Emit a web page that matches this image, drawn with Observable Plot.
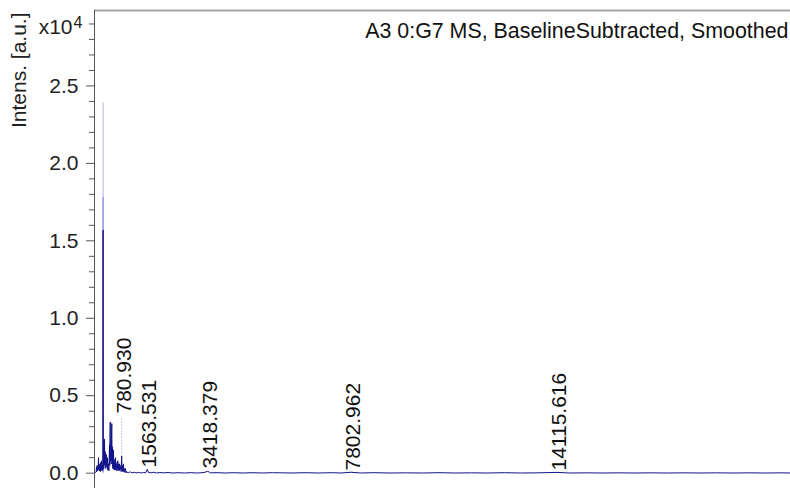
<!DOCTYPE html>
<html>
<head>
<meta charset="utf-8">
<script src="https://cdn.jsdelivr.net/npm/d3@7"></script>
<script src="https://cdn.jsdelivr.net/npm/@observablehq/plot@0.6"></script>
<style>
  html, body { margin: 0; padding: 0; background: #fff; }
</style>
</head>
<body>
<div id="chart"></div>
<script>
// ---- data (intensity in units of 10^4 a.u.) ----
const titleText = "A3 0:G7 MS, BaselineSubtracted, Smoothed";
const yLabel = "Intens. [a.u.]";
const yExponentBase = "x10";
const yExponent = "4";

const spectrumMz = [
  -50, 0, 10, 18, 28, 38, 48, 60, 70, 80, 92, 102, 115, 128, 140, 152, 165, 178, 190, 200,
  207, 211, 215, 222, 232, 240, 246, 254, 262, 272, 285, 295, 305, 315, 325, 335, 345, 356,
  366, 377, 388, 398, 407, 416, 424, 430, 437, 445, 453, 461, 470, 478, 486, 493, 500, 508,
  516, 523, 530, 538, 546, 553, 560, 568, 576, 584, 591, 600, 610, 622, 632, 642, 652, 662,
  672, 683, 693, 703, 714, 724, 734, 744, 755, 765, 772, 781, 790, 798, 805, 814, 822, 830,
  836, 845, 855, 867, 877, 887, 897, 910, 925, 940, 960, 985, 1010,
  1050, 1100, 1160, 1220, 1300, 1380, 1450, 1520, 1563, 1600, 1680, 1760, 1850, 1950, 2050,
  2200, 2350, 2500, 2700, 2900, 3100, 3300, 3418, 3500, 3700, 3950, 4200, 4500, 4800, 5100,
  5400, 5700, 6000, 6400, 6800, 7200, 7500, 7803, 8100, 8500, 9000, 9500, 10000, 10500,
  11000, 11500, 12000, 12500, 13000, 13500, 14116, 14500, 15000, 15500, 16000, 16500, 17000,
  17500, 18000, 18500, 19000, 19500, 20000, 20500, 21000, 21265
];
const spectrumIntensity = [
  0, 0.01, 0.04, 0.01, 0.05, 0.015, 0.03, 0.02, 0.10, 0.02, 0.06, 0.015, 0.05, 0.01, 0.07, 0.02, 0.08, 0.015, 0.05, 0.02,
  0.03, 1.57, 0.04, 0.12, 0.03, 0.21, 0.06, 0.22, 0.05, 0.14, 0.08, 0.03, 0.11, 0.12, 0.04, 0.09, 0.10, 0.02,
  0.06, 0.06, 0.015, 0.09, 0.18, 0.05, 0.26, 0.33, 0.08, 0.20, 0.20, 0.06, 0.27, 0.32, 0.09, 0.17, 0.12, 0.03,
  0.11, 0.04, 0.15, 0.03, 0.09, 0.02, 0.07, 0.03, 0.08, 0.02, 0.10, 0.03, 0.06, 0.05, 0.015, 0.07, 0.02, 0.08,
  0.02, 0.04, 0.06, 0.015, 0.06, 0.02, 0.05, 0.03, 0.04, 0.01, 0.07, 0.11, 0.02, 0.04, 0.05, 0.01, 0.03, 0.02,
  0.06, 0.01, 0.03, 0.02, 0.005, 0.015, 0.03, 0.004, 0.012, 0.002, 0.008, 0.002, 0.006,
  0.008, 0.002, 0.006, 0.001, 0.005, 0.001, 0.004, 0.003, 0.025, 0.004, 0.002, 0.006, 0.001, 0.004, 0.002,
  0.004, 0.001, 0.003, 0.001, 0.003, 0.001, 0.004, 0.012, 0.002, 0.003, 0.001, 0.003, 0.001, 0.003, 0.001,
  0.003, 0.002, 0.001, 0.003, 0.001, 0.003, 0.001, 0.006, 0.001, 0.003, 0.001, 0.002, 0.001, 0.003,
  0.001, 0.002, 0.001, 0.003, 0.001, 0.002, 0.005, 0.001, 0.002, 0.001, 0.002, 0.001, 0.002,
  0.001, 0.002, 0.001, 0.002, 0.001, 0.002, 0.001, 0.002, 0.001
];

// main (saturated-looking) spike at m/z ~211 drawn as overlaid strokes
const mainPeakMz = 211;
const mainPeakLevels = [2.39, 1.78];

// annotated peaks
const peakMz = [780.930, 1563.531, 3418.379, 7802.962, 14115.616];
const peakLabels = ["780.930", "1563.531", "3418.379", "7802.962", "14115.616"];
const peakIntensity = [0.11, 0.025, 0.012, 0.006, 0.005];
const labelIntensity = [0.385, 0.037, 0.03, 0.017, 0.017];

// y-axis ticks
const majorTicks = [0, 0.5, 1.0, 1.5, 2.0, 2.5];
const minorTicks = [0.1,0.2,0.3,0.4,0.6,0.7,0.8,0.9,1.1,1.2,1.3,1.4,1.6,1.7,1.8,1.9,2.1,2.2,2.3,2.4,2.6,2.7,2.8,2.9];

const xDomain = [-52, 21265];
const yDomain = [-0.099, 2.987];

// ---- build ----
const spectrum = spectrumMz.map((m, k) => ({mz: m, intensity: spectrumIntensity[k]}));
const peaks = peakMz.map((m, k) => ({mz: m, label: peakLabels[k], top: peakIntensity[k], at: labelIntensity[k]}));
const leaders = peaks.filter(p => p.at - p.top > 0.05);
const spikes = mainPeakLevels.map((v, k) => ({mz: mainPeakMz, top: v, k}));
const spikeOpacity = [0.38, 0.5];
const navy = "#12128a";
const spikeColor = "#3030c0";
const font = "'Liberation Sans', Arial, Helvetica, sans-serif";

const chart = Plot.plot({
  width: 790,
  height: 488,
  marginLeft: 94,
  marginRight: 0,
  marginTop: 10,
  marginBottom: 0,
  x: {domain: xDomain, axis: null},
  y: {domain: yDomain, axis: null},
  style: {fontFamily: font, background: "#fff", overflow: "visible"},
  marks: [
    Plot.ruleY([yDomain[1]], {stroke: "#a6a6a6", strokeWidth: 2}),
    Plot.ruleX([xDomain[0]], {stroke: "#555"}),
    Plot.axisY(minorTicks, {anchor: "left", tickSize: 5, tickFormat: () => "", color: "#555"}),
    Plot.axisY(majorTicks, {anchor: "left", tickSize: 8, tickPadding: 8, fontSize: 21,
      tickFormat: d => d.toFixed(1), color: "#222", stroke: "#555"}),
    Plot.ruleX(spikes, {x: "mz", y1: 0, y2: "top", stroke: spikeColor, strokeOpacity: d => spikeOpacity[d.k]}),
    Plot.line(spectrum, {x: "mz", y: "intensity", stroke: navy, strokeWidth: 1, curve: "linear"}),
    Plot.ruleX(leaders, {x: "mz", y1: "top", y2: d => d.at - 0.035, stroke: "#888", strokeDasharray: "1,2"}),
    Plot.text(peaks, {x: "mz", y: "at", text: "label", rotate: -90, textAnchor: "start",
      lineAnchor: "middle", fontSize: 21, dx: 2.3, fill: "#111"}),
    Plot.text([titleText], {frameAnchor: "top-right", textAnchor: "end", lineAnchor: "middle",
      dx: -2, dy: 21, fontSize: 21.4, fill: "#111"}),
    Plot.text([yLabel], {frameAnchor: "top-left", textAnchor: "end", lineAnchor: "middle",
      rotate: -90, dx: -75.7, dy: 2, fontSize: 21, fill: "#222"}),
    Plot.text([yExponentBase], {frameAnchor: "top-left", textAnchor: "end", lineAnchor: "middle",
      dx: -22, dy: 16.3, fontSize: 21, fill: "#222"}),
    Plot.text([yExponent], {frameAnchor: "top-left", textAnchor: "start", lineAnchor: "middle",
      dx: -21, dy: 11.9, fontSize: 16, fill: "#222"})
  ]
});
document.getElementById("chart").appendChild(chart);
</script>
</body>
</html>
